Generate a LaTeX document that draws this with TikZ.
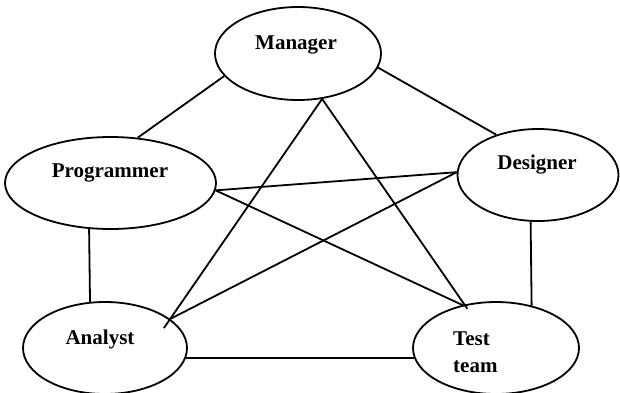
\documentclass[tikz,border=0pt]{standalone}
\usepackage{fontspec}
\setmainfont{Liberation Serif}
\usetikzlibrary{shapes.geometric}
\begin{document}
\begin{tikzpicture}[x=1pt,y=-1pt,
  role/.style={draw, ellipse, line width=1.8pt, inner sep=0pt,
               minimum height=92pt},
  rolename/.style={font=\fontsize{21}{27}\selectfont\bfseries, inner sep=0pt},
  link/.style={line width=1.8pt}]
\useasboundingbox (0,0) rectangle (620,392);

% team members
\node[role, minimum width=166pt, minimum height=93pt] (man) at (298,53.5) {};
\node[role, minimum width=211pt] (prog) at (110.5,183) {};
\node[role, minimum width=161pt] (des) at (538,175) {};
\node[role, minimum width=164pt] (ana) at (105,348) {};
\node[role, minimum width=166pt] (test) at (496,348) {};

% their names
\node[rolename] (manT) at (296,45) {Manager};
\node[rolename] (progT) at (110,172.5) {Programmer};
\node[rolename] (desT) at (537,164.5) {Designer};
\node[rolename] (anaT) at (100,339) {Analyst};
\node[rolename, align=left, anchor=west] (testT) at (453,352) {Test\\team};

% communication links
\draw[link] (man.197.7) -- (prog.59);
\draw[link] (man.-10) -- (des.136);
\draw[link, shorten >=-11pt] (man.-62) -- (ana.24);
\draw[link, shorten >=-5pt] (man.-62) -- (test.126);
\draw[link] (prog.-4) -- (des.178);
\draw[link] (prog.-4) -- (test.128);
\draw[link] (des.178) -- (ana.24);
\draw[link] (prog.245.6) -- (ana.108.4);
\draw[link] (des.-99) -- (test.50);
\draw[link] (ana.-7.9) -- (test.187.8);
\end{tikzpicture}
\end{document}
